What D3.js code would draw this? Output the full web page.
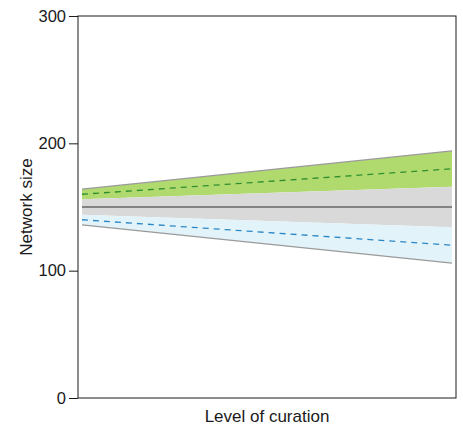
<!DOCTYPE html>
<html>
<head>
<meta charset="utf-8">
<script src="https://cdn.jsdelivr.net/npm/d3@7"></script>
<style>
  body { margin: 0; background: white; }
  text { font-family: "Liberation Sans", Arial, Helvetica, sans-serif; fill: #1a1a1a; }
</style>
</head>
<body>
<script>
// curation level from none (0) to full (1)
const curation = [0, 1];
const upperBound = [164, 194];
const greenMean = [160, 180];
const greenLow = [156, 166];
const centre = [150, 150];
const greyLow = [144, 134];
const blueMean = [140, 120];
const lowerBound = [136, 106];
const yTicks = [0, 100, 200, 300];

const width = 463, height = 427;
const margin = {top: 16, right: 7, bottom: 29, left: 78};
const svg = d3.select("body").append("svg")
    .attr("width", width).attr("height", height);

const x0 = margin.left, x1 = width - margin.right;
const y0 = height - margin.bottom, y1 = margin.top;

const xScale = d3.scaleLinear().domain([0, 1]).range([x0 + 4, x1 - 4]);
const yScale = d3.scaleLinear().domain([0, 300]).range([y0, y1]);

const pts = arr => curation.map((c, i) => [c, arr[i]]);

const area = (hi, lo) => d3.area()
    .x(d => xScale(d[0]))
    .y0((d, i) => yScale(lo[i]))
    .y1(d => yScale(d[1]));

const line = d3.line().x(d => xScale(d[0])).y(d => yScale(d[1]));

// bands
svg.append("path").datum(pts(upperBound)).attr("d", area(upperBound, greenLow)).attr("fill", "#b1da6e");
svg.append("path").datum(pts(greenLow)).attr("d", area(greenLow, greyLow)).attr("fill", "#d9d9d9");
svg.append("path").datum(pts(greyLow)).attr("d", area(greyLow, lowerBound)).attr("fill", "#e3f3fa");

// lines
svg.append("path").datum(pts(upperBound)).attr("d", line).attr("fill", "none").attr("stroke", "#9a9a9a").attr("stroke-width", 1.3);
svg.append("path").datum(pts(lowerBound)).attr("d", line).attr("fill", "none").attr("stroke", "#9a9a9a").attr("stroke-width", 1.3);
svg.append("path").datum(pts(centre)).attr("d", line).attr("fill", "none").attr("stroke", "#666").attr("stroke-width", 1.5);
svg.append("path").datum(pts(greenMean)).attr("d", line).attr("fill", "none").attr("stroke", "#2f8f2f").attr("stroke-width", 1.3).attr("stroke-dasharray", "6,5");
svg.append("path").datum(pts(blueMean)).attr("d", line).attr("fill", "none").attr("stroke", "#2a87c6").attr("stroke-width", 1.3).attr("stroke-dasharray", "6,5");

// frame
svg.append("rect").attr("x", x0).attr("y", y1).attr("width", x1 - x0).attr("height", y0 - y1)
    .attr("fill", "none").attr("stroke", "#1a1a1a").attr("stroke-width", 1);

// y axis
const yAxis = d3.axisLeft(yScale).tickValues(yTicks).tickSize(9).tickPadding(3);
const yAxisGroup = svg.append("g").attr("transform", `translate(${x0},0)`).call(yAxis);
yAxisGroup.select(".domain").remove();
yAxisGroup.selectAll(".tick line").attr("stroke", "#1a1a1a");
yAxisGroup.selectAll(".tick text").attr("font-size", "16.5px").attr("font-family", "Liberation Sans, Arial, sans-serif").attr("fill", "#1a1a1a");

// axis titles
svg.append("text").text("Level of curation")
    .attr("x", (x0 + x1) / 2).attr("y", 422)
    .attr("text-anchor", "middle").attr("font-size", "17px");
svg.append("text").text("Network size")
    .attr("transform", `translate(32,${(y0 + y1) / 2}) rotate(-90)`)
    .attr("text-anchor", "middle").attr("font-size", "17px");
</script>
</body>
</html>
